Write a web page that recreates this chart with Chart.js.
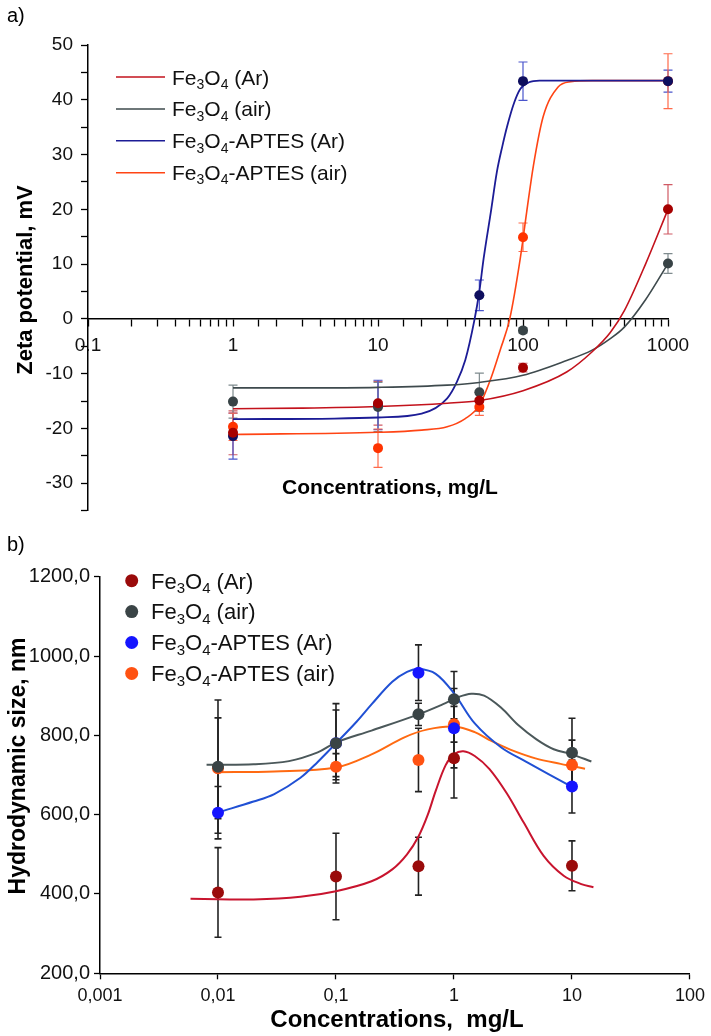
<!DOCTYPE html>
<html>
<head>
<meta charset="utf-8">
<script src="https://cdn.jsdelivr.net/npm/chart.js@4.4.1/dist/chart.umd.min.js"></script>
<style>
  html, body { margin: 0; padding: 0; background: #fff; }
  .panel { position: absolute; left: 0; }
  #wrapA { top: 0; }
  #wrapB { top: 530px; }
</style>
</head>
<body>
<div class="panel" id="wrapA"><canvas id="chartA" width="711" height="530"></canvas></div>
<div class="panel" id="wrapB"><canvas id="chartB" width="711" height="506"></canvas></div>
<script>
// ---- panel a: zeta potential ----
var seriesNames = ["Fe3O4 (Ar)", "Fe3O4 (air)", "Fe3O4-APTES (Ar)", "Fe3O4-APTES (air)"];

var concA = [1, 10, 50, 100, 1000];
var zetaFeAr = [-20.8, -15.4, -14.9, -8.9, 20.0];
var zetaFeAir = [-15.1, -16.1, -13.4, -2.1, 10.1];
var zetaApAr = [-21.4, -15.7, 4.3, 43.4, 43.4];
var zetaApAir = [-19.7, -23.6, -16.1, 14.9, 43.4];
var errFeAr = [4.0, 4.0, 1.5, 0.8, 4.5];
var errFeAir = [3.0, 4.5, 3.5, 0.5, 1.8];
var errApAr = [4.2, 4.5, 2.8, 3.5, 2.0];
var errApAir = [2.5, 3.5, 1.5, 2.6, 5.0];

// fitted curves
var fitFeX = [1, 3, 10, 30, 50, 100, 200, 300, 400, 500, 700, 1000];
var fitFeArY = [-16.4, -16.3, -16.0, -15.4, -14.9, -13.1, -9.7, -6.0, -2.5, 1.5, 10.0, 20.0];
var fitFeAirY = [-12.6, -12.6, -12.5, -12.1, -11.6, -10.3, -7.6, -5.7, -3.6, -1.5, 3.5, 10.1];
var fitApArX = [1, 5, 10, 20, 30, 35, 40, 46, 50, 53.5, 60, 66, 72, 78, 87, 96, 110, 130, 1000];
var fitApArY = [-18.3, -18.2, -18.0, -17.3, -14.5, -11.5, -7.5, -0.5, 5, 11, 19.5, 26.8, 31.5, 35.3, 39.5, 42.0, 43.2, 43.5, 43.5];
var fitApAirX = [1, 10, 20, 30, 40, 50, 60, 70, 81, 95.7, 106, 118, 138, 174, 213, 300, 1000];
var fitApAirY = [-21.1, -20.7, -20.3, -19.7, -18.2, -15.8, -10.9, -5.5, 0, 11, 19.5, 28, 37, 42.3, 43.3, 43.5, 43.5];

// ---- panel b: hydrodynamic size ----
var concB = [0.01, 0.1, 0.5, 1, 10];
var sizeFeAr = [404, 444, 470, 742, 471];
var sizeFeAir = [721, 780, 853, 891, 756];
var sizeApAr = [605, 780, 958, 818, 671];
var sizeApAir = [717, 721, 738, 828, 725];
var errSFeAr = [113, 109, 73, 100, 63];
var errSFeAir = [168, 84, 28, 70, 87];
var errSApAr = [66, 100, 70, 100, 67];
var errSApAir = [127, 33, 80, 45, 63];

var curveFeArX = [0.00585, 0.01, 0.02, 0.05, 0.1, 0.2, 0.3, 0.4, 0.5, 0.6, 0.7, 0.85, 1.0, 1.2, 1.5, 2, 2.8, 3.9, 5.75, 8.5, 12, 15.2];
var curveFeArY = [388, 387, 386, 393, 407, 432, 462, 500, 545, 600, 660, 725, 752, 760, 748, 715, 654, 580, 496, 446, 425, 417];
var curveFeAirX = [0.008, 0.02, 0.04, 0.07, 0.1, 0.2, 0.5, 0.8, 1.1, 1.4, 1.8, 2.5, 3.5, 5, 7, 10, 14.6];
var curveFeAirY = [726, 727, 735, 757, 782, 812, 853, 878, 897, 905, 900, 870, 826, 790, 765, 752, 734];
var curveApArX = [0.0104, 0.02, 0.03, 0.05, 0.07, 0.1, 0.15, 0.2, 0.3, 0.4, 0.5, 0.7, 1, 1.5, 2.5, 4, 10];
var curveApArY = [607, 633, 652, 693, 733, 780, 835, 878, 935, 960, 967, 955, 906, 830, 770, 735, 670];
var curveApAirX = [0.0094, 0.03, 0.1, 0.2, 0.38, 0.6, 1, 1.5, 2, 3, 4.9, 8, 12.9];
var curveApAirY = [707, 709, 719, 752, 795, 815, 822, 808, 788, 764, 742, 728, 716];

var FONT = '"Liberation Sans", Arial, sans-serif';
Chart.defaults.font.family = FONT;
Chart.defaults.color = "#111";

function pts(xs, ys) {
  return xs.map(function (x, i) { return {x: x, y: ys[i]}; });
}
function isPow10(v) {
  var l = Math.log10(v);
  return Math.abs(l - Math.round(l)) < 1e-6;
}

// smooth: 0 -> monotone spline, otherwise bezier tension
function curve(xs, ys, color, w, smooth) {
  var ds = {
    data: pts(xs, ys), showLine: true, borderColor: color, borderWidth: w,
    pointRadius: 0, fill: false, order: 1, clip: false
  };
  if (smooth) ds.tension = smooth;
  else ds.cubicInterpolationMode = "monotone";
  return ds;
}
function dots(xs, ys, errs, color, errColor, r) {
  return {
    data: pts(xs, ys), showLine: false, backgroundColor: color, borderColor: color,
    pointRadius: r, pointBorderWidth: 0, errors: errs, errorColor: errColor, order: 0, clip: false
  };
}

// error bars drawn through the scales
var errorBars = {
  id: "errorBars",
  beforeDatasetsDraw: function (chart, args, opts) {
    var ctx = chart.ctx, xs = chart.scales.x, ys = chart.scales.y;
    chart.data.datasets.forEach(function (ds) {
      if (!ds.errors) return;
      ctx.save();
      ctx.strokeStyle = ds.errorColor;
      ctx.lineWidth = opts.width;
      ds.data.forEach(function (p, j) {
        var e = ds.errors[j];
        var px = xs.getPixelForValue(p.x);
        var top = ys.getPixelForValue(p.y + e);
        var bot = ys.getPixelForValue(p.y - e);
        ctx.beginPath();
        ctx.moveTo(px, top); ctx.lineTo(px, bot);
        ctx.moveTo(px - opts.cap, top); ctx.lineTo(px + opts.cap, top);
        ctx.moveTo(px - opts.cap, bot); ctx.lineTo(px + opts.cap, bot);
        ctx.stroke();
      });
      ctx.restore();
    });
  }
};

// text with digits as subscripts (Fe3O4 -> Fe₃O₄)
function drawChem(ctx, text, x, y, size) {
  var base = y + size * 0.358;
  var cx = x;
  for (var i = 0; i < text.length; i++) {
    var ch = text[i];
    var sub = /\d/.test(ch);
    ctx.font = (sub ? Math.round(size * 0.68) : size) + "px " + FONT;
    ctx.fillText(ch, cx, sub ? base + size * 0.2 : base);
    cx += ctx.measureText(ch).width;
  }
}

var panelLegend = {
  id: "panelLegend",
  afterDraw: function (chart, args, opts) {
    var ctx = chart.ctx;
    ctx.save();
    ctx.textAlign = "left";
    ctx.textBaseline = "alphabetic";
    opts.colors.forEach(function (c, k) {
      var y = opts.y + k * opts.dy;
      if (opts.kind === "line") {
        ctx.strokeStyle = c; ctx.lineWidth = 1.5;
        ctx.beginPath(); ctx.moveTo(opts.x0, y); ctx.lineTo(opts.x1, y); ctx.stroke();
      } else {
        ctx.fillStyle = c;
        ctx.beginPath(); ctx.arc(opts.x0, y, opts.r, 0, Math.PI * 2); ctx.fill();
      }
      ctx.fillStyle = "#111";
      drawChem(ctx, seriesNames[k], opts.tx, y, opts.size);
    });
    ctx.restore();
  }
};

var panelText = {
  id: "panelText",
  afterDraw: function (chart, args, opts) {
    var ctx = chart.ctx;
    opts.texts.forEach(function (t) {
      ctx.save();
      ctx.font = t.font;
      ctx.fillStyle = "#000";
      ctx.textAlign = t.align || "center";
      ctx.textBaseline = "middle";
      ctx.translate(t.x, t.y);
      if (t.rot) ctx.rotate(t.rot);
      ctx.fillText(t.text, 0, 0);
      ctx.restore();
    });
  }
};

var axisGrid = {drawOnChartArea: false, drawTicks: true, tickLength: 7, color: "#000", tickColor: "#000", tickWidth: 1.3};
var axisBorder = {color: "#000", width: 1.5};

// colours
var cA = {feAr: "#c3121c", feAir: "#3e4a4d", apAr: "#1c1c96", apAir: "#ff4414"};
var pA = {feAr: "#a60000", feAir: "#384346", apAr: "#0e0e5e", apAir: "#ff3300"};
var eA = {feAr: "#d05a64", feAir: "#7f8b8e", apAr: "#4a55cc", apAir: "#ff6a4a"};

new Chart("chartA", {
  type: "scatter",
  data: {
    datasets: [
      curve(fitFeX, fitFeArY, cA.feAr, 1.6),
      curve(fitFeX, fitFeAirY, cA.feAir, 1.6),
      curve(fitApArX, fitApArY, cA.apAr, 1.8),
      curve(fitApAirX, fitApAirY, cA.apAir, 1.6),
      dots(concA, zetaFeAr, errFeAr, pA.feAr, eA.feAr, 5),
      dots(concA, zetaFeAir, errFeAir, pA.feAir, eA.feAir, 5),
      dots(concA, zetaApAr, errApAr, pA.apAr, eA.apAr, 5),
      dots(concA, zetaApAir, errApAir, pA.apAir, eA.apAir, 5)
    ]
  },
  options: {
    responsive: false,
    animation: false,
    events: [],
    layout: {padding: {left: 10, right: 43, top: 45, bottom: 17}},
    scales: {
      x: {
        type: "logarithmic", min: 0.1, max: 1000,
        position: {y: 0},
        grid: axisGrid, border: axisBorder,
        ticks: {
          autoSkip: false, maxRotation: 0, padding: 8,
          font: {size: 19},
          callback: function (v) { return isPow10(v) ? String(+v.toPrecision(6)) : ""; }
        }
      },
      y: {
        min: -35, max: 50,
        grid: axisGrid, border: axisBorder,
        afterFit: function (s) { s.width = 78; },
        ticks: {
          stepSize: 5, padding: 8, font: {size: 19},
          callback: function (v) { return v % 10 === 0 ? String(v) : ""; }
        }
      }
    },
    plugins: {
      legend: {display: false},
      tooltip: {enabled: false},
      errorBars: {width: 1.2, cap: 4.5},
      panelLegend: {kind: "line", colors: [cA.feAr, cA.feAir, cA.apAr, cA.apAir],
        x0: 116, x1: 165, tx: 172, y: 77, dy: 31.9, size: 21},
      panelText: {texts: [
        {text: "a)", x: 7, y: 16, align: "left", font: "20px " + FONT},
        {text: "Zeta potential, mV", x: 26, y: 280, rot: -Math.PI / 2, font: "bold 22px " + FONT},
        {text: "Concentrations, mg/L", x: 390, y: 488, font: "bold 21px " + FONT}
      ]}
    }
  },
  plugins: [errorBars, panelLegend, panelText]
});

var cB = {feAr: "#c8142e", feAir: "#4b585a", apAr: "#2050d4", apAir: "#ff6a12"};
var pB = {feAr: "#9a0b0b", feAir: "#3a4446", apAr: "#1515ff", apAir: "#ff5212"};
var eB = "#222";

new Chart("chartB", {
  type: "scatter",
  data: {
    datasets: [
      curve(curveFeArX, curveFeArY, cB.feAr, 2, 0.35),
      curve(curveFeAirX, curveFeAirY, cB.feAir, 2, 0.35),
      curve(curveApArX, curveApArY, cB.apAr, 2, 0.35),
      curve(curveApAirX, curveApAirY, cB.apAir, 2, 0.35),
      dots(concB, sizeFeAr, errSFeAr, pB.feAr, eB, 6),
      dots(concB, sizeFeAir, errSFeAir, pB.feAir, eB, 6),
      dots(concB, sizeApAr, errSApAr, pB.apAr, eB, 6),
      dots(concB, sizeApAir, errSApAir, pB.apAir, eB, 6)
    ]
  },
  options: {
    responsive: false,
    animation: false,
    events: [],
    layout: {padding: {left: 5, right: 17.7, top: 46.7, bottom: 32.7}},
    scales: {
      x: {
        type: "logarithmic", min: 0.001, max: 100,
        position: "bottom",
        grid: Object.assign({}, axisGrid, {tickLength: 6}), border: axisBorder,
        afterFit: function (s) { s.height = 30; },
        afterBuildTicks: function (s) {
          s.ticks = s.ticks.filter(function (t) { return isPow10(t.value); });
        },
        ticks: {
          autoSkip: false, maxRotation: 0, padding: 6, font: {size: 18},
          callback: function (v) { return String(+v.toPrecision(6)).replace(".", ","); }
        }
      },
      y: {
        min: 200, max: 1200,
        grid: Object.assign({}, axisGrid, {tickLength: 6}), border: axisBorder,
        afterFit: function (s) { s.width = 95; },
        ticks: {
          stepSize: 200, padding: 4, font: {size: 20},
          callback: function (v) { return v.toFixed(1).replace(".", ","); }
        }
      }
    },
    plugins: {
      legend: {display: false},
      tooltip: {enabled: false},
      errorBars: {width: 1.6, cap: 3.5},
      panelLegend: {kind: "dot", colors: [pB.feAr, pB.feAir, pB.apAr, pB.apAir],
        x0: 131.7, r: 6.5, tx: 151, y: 50.7, dy: 30.9, size: 22},
      panelText: {texts: [
        {text: "b)", x: 7, y: 15, align: "left", font: "20px " + FONT},
        {text: "Hydrodynamic size, nm", x: 19, y: 236, rot: -Math.PI / 2, font: "bold 23px " + FONT},
        {text: "Concentrations,  mg/L", x: 397, y: 490, font: "bold 24px " + FONT}
      ]}
    }
  },
  plugins: [errorBars, panelLegend, panelText]
});
</script>
</body>
</html>
